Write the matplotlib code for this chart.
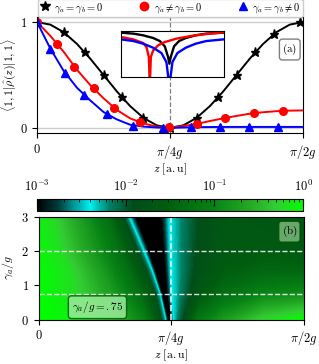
import numpy as np
import matplotlib
matplotlib.use('Agg')
import matplotlib.pyplot as plt
from matplotlib.colors import LinearSegmentedColormap, LogNorm
from matplotlib.cm import ScalarMappable

plt.rcParams['mathtext.fontset'] = 'cm'
plt.rcParams['font.family'] = 'serif'
plt.rcParams['font.serif'] = ['DejaVu Serif']

# z in units of pi/2g
z_line = [0, .05, .1, .15, .2, .25, .3, .35, .4, .45, .5, .55, .6, .65, .7, .75, .8, .85, .9, .95, 1]
black_line = [1, .976, .905, .794, .655, .5, .345, .206, .095, .024, 0, .024, .095, .206, .345, .5, .655, .794, .905, .976, 1]
red_line = [1, .87, .72, .55, .405, .28, .17, .09, .042, .012, .004, .018, .037, .065, .09, .113, .134, .148, .158, .163, .165]
blue_line = [1, .75, .54, .38, .26, .15, .08, .03, .012, .004, 0, .004, .007, .008, .009, .009, .009, .009, .009, .009, .009]

star_z = [0, .1, .18, .25, .32, .4, .5, .6, .68, .75, .82, .89, .99]
star_v = [1, .905, .713, .5, .289, .095, 0, .095, .289, .5, .713, .887, .999]
circ_z = [0, .075, .14, .213, .29, .386, .495, .6, .708, .815, .924]
circ_v = [1, .797, .578, .375, .1875, .053, .006, .037, .094, .14, .162]
tri_z = [0, .05, .107, .175, .263, .361, .474, .579, .687, .796, .905]
tri_v = [1, .75, .516, .3125, .131, .022, 0, .006, .009, .009, .009]

# inset (log10 of the value)
ins_black_z = [.42, .4403, .4567, .4732, .4842, .4924, .4979, .5, .5022, .5077, .516, .527, .5434, .561, .59]
ins_black_log = [-1.146, -1.255, -1.438, -1.73, -2.06, -2.64, -3.81, -4.54, -3.81, -2.64, -2.06, -1.73, -1.438, -1.255, -1.146]
ins_red_z = [.42, .4403, .4567, .4622, .4661, .4677, .4694, .4732, .4814, .4924, .5116, .539, .5664, .59]
ins_red_log = [-1.62, -1.876, -2.28, -2.72, -3.81, -7, -3.81, -3.08, -2.53, -2.17, -1.8, -1.47, -1.256, -1.11]
ins_blue_z = [.42, .4403, .4567, .4732, .4869, .4951, .5, .505, .5132, .527, .5434, .561, .59]
ins_blue_log = [-1.876, -2.06, -2.35, -2.79, -3.37, -4.36, -7, -4.36, -3.37, -2.79, -2.35, -2.06, -1.876]

# heatmap: rows of gamma_a/g, each with node positions along z and log10 values
gam_rows = [0, .75, 1.4, 2, 3]
map_z = [
    [0, .15, .3, .4, .455, .478, .487, .493, .5, .51, .54, .6, .7, .85, 1],
    [0, .15, .28, .38, .435, .457, .465, .475, .488, .505, .535, .61, .7, .85, 1],
    [0, .12, .24, .34, .405, .428, .44, .46, .482, .5, .535, .61, .7, .85, 1],
    [0, .08, .2, .3, .37, .396, .415, .445, .477, .497, .535, .61, .7, .85, 1],
    [0, .06, .17, .26, .315, .34, .365, .42, .468, .495, .535, .62, .72, .85, 1],
]
map_log = [
    [0, -.1, -.6, -1.05, -1.7, -2.4, -3.0, -3.6, -3.0, -2.4, -2.0, -1.2, -.75, -.25, 0],
    [0, -.25, -.75, -1.3, -1.8, -2.4, -3.0, -3.6, -2.9, -2.4, -2.2, -1.65, -1.3, -1.0, -.9],
    [-.02, -.2, -.75, -1.3, -1.85, -2.4, -3.0, -3.8, -2.9, -2.4, -2.22, -1.8, -1.55, -1.4, -1.4],
    [-.05, -.2, -.75, -1.25, -1.85, -2.4, -3.0, -3.8, -2.9, -2.4, -2.22, -1.85, -1.65, -1.6, -1.65],
    [-.1, -.25, -.8, -1.3, -1.85, -2.4, -3.0, -4.0, -2.9, -2.4, -2.22, -1.85, -1.65, -1.7, -1.75],
]

cmap = LinearSegmentedColormap.from_list('bcg', [
    (0.0, (0, 0, 0)), (0.08, (0, .24, .24)), (0.2, (0, .95, .95)), (0.27, (0, .5, .4)),
    (0.36, (0, .3, .1)), (0.48, (0, .36, .06)), (0.65, (.02, .5, .08)),
    (0.8, (.14, .66, .14)), (0.9, (.2, .8, .2)), (1.0, (0, 1, 0))])
cmap.set_under('black')
cmap.set_over((0, 1, 0))

fig = plt.figure(figsize=(3.19, 3.64), dpi=100)

# top panel
ax = fig.add_axes([0.116, 0.635, 0.834, 0.318])
ax.axhline(0, color='0.8', lw=1, zorder=0)
ax.axhline(1, color='0.8', lw=1, zorder=0)
ax.axvline(0.5, color='0.5', lw=0.9, ls='--', zorder=0)
ax.plot(z_line, black_line, color='k', lw=1.4)
ax.plot(z_line, red_line, color='red', lw=1.4)
ax.plot(z_line, blue_line, color='blue', lw=1.4)
ax.plot(star_z, star_v, '*', color='k', ms=6.5, ls='none', label=r'$\gamma_a=\gamma_b=0$')
ax.plot(circ_z, circ_v, 'o', color='red', ms=5.5, ls='none', label=r'$\gamma_a\neq\gamma_b=0$')
ax.plot(tri_z, tri_v, '^', color='blue', ms=5.5, ls='none', label=r'$\gamma_a=\gamma_b\neq0$')
ax.set_xlim(0, 1)
ax.set_ylim(-0.047, 1.047)
ax.set_xticks([0, .5, 1])
ax.set_xticklabels(['$0$', r'$\pi/4g$', r'$\pi/2g$'], fontsize=9)
ax.set_yticks([0, 1])
ax.set_yticklabels(['$0$', '$1$'], fontsize=9)
ax.set_xlabel(r'$z\ [\mathrm{a.u}]$', fontsize=8.5, labelpad=1)
ax.set_ylabel(r'$\langle 1,1|\hat\rho(z)|1,1\rangle$', fontsize=8.5)
ax.yaxis.set_label_coords(-0.07, 0.5)
ax.legend(loc='lower left', bbox_to_anchor=(0, 1.0, 1, 0.1), mode='expand', ncol=3,
          fontsize=7.5, handletextpad=0.4, borderaxespad=0.05, borderpad=0.2,
          handlelength=1.0, columnspacing=0.4, framealpha=1, markerscale=1.1)
ax.text(0.95, 0.72, r'$\mathrm{(a)}$', transform=ax.transAxes, fontsize=8, ha='center', va='center',
        bbox=dict(boxstyle='round,pad=0.25', fc='white', ec='0.5'))

# inset
axi = fig.add_axes([0.379, 0.788, 0.323, 0.126])
axi.plot(ins_black_z, 10.0 ** np.array(ins_black_log), color='k', lw=1.7)
axi.plot(ins_red_z, 10.0 ** np.array(ins_red_log), color='red', lw=1.7)
axi.plot(ins_blue_z, 10.0 ** np.array(ins_blue_log), color='blue', lw=1.7)
axi.set_yscale('log')
axi.set_xlim(.42, .59)
axi.set_ylim(1e-6, 1e-1)
axi.set_xticks([])
axi.set_yticks([])
axi.minorticks_off()

# colorbar
cax = fig.add_axes([0.116, 0.420, 0.834, 0.034])
cb = fig.colorbar(ScalarMappable(norm=LogNorm(1e-3, 1), cmap=cmap), cax=cax, orientation='horizontal')
cax.xaxis.set_ticks_position('top')
cb.set_ticks([1e-3, 1e-2, 1e-1, 1])
cb.set_ticklabels([r'$10^{-3}$', r'$10^{-2}$', r'$10^{-1}$', r'$10^{0}$'])
cax.tick_params(which='both', direction='in', labelsize=9)
cax.tick_params(which='major', length=5)
cax.tick_params(which='minor', length=2.5)

# heatmap
ax2 = fig.add_axes([0.121, 0.122, 0.831, 0.283])
Z = np.array(map_z)
G = np.repeat(np.array(gam_rows)[:, None], Z.shape[1], axis=1)
cs = ax2.contourf(Z, G, np.array(map_log), levels=np.linspace(-3, 0, 151), cmap=cmap, extend='both')
ax2.axhline(2, color='white', ls='--', lw=1, alpha=0.85)
ax2.axhline(0.75, color='white', ls='--', lw=1, alpha=0.85)
ax2.axvline(0.5, color='white', ls='--', lw=1.2, alpha=0.9)
ax2.set_xlim(0, 1)
ax2.set_ylim(0, 3)
ax2.set_xticks([0, .5, 1])
ax2.set_xticklabels(['$0$', r'$\pi/4g$', r'$\pi/2g$'], fontsize=9)
ax2.set_yticks([0, 1, 2, 3])
ax2.set_yticklabels(['$0$', '$1$', '$2$', '$3$'], fontsize=9)
ax2.set_xlabel(r'$z\ [\mathrm{a.u}]$', fontsize=8.5, labelpad=0)
ax2.set_ylabel(r'$\gamma_a/g$', fontsize=8.5)
ax2.yaxis.set_label_coords(-0.085, 0.5)
ax2.text(0.222, 0.12, r'$\gamma_a/g=.75$', transform=ax2.transAxes, fontsize=8, ha='center', va='center',
         bbox=dict(boxstyle='round,pad=0.3', fc=(.6, .92, .6), ec=(0, .35, 0), alpha=0.85))
ax2.text(0.946, 0.853, r'$\mathrm{(b)}$', transform=ax2.transAxes, fontsize=8, ha='center', va='center',
         bbox=dict(boxstyle='round,pad=0.25', fc=(.5, .75, .5), ec=(0, .3, 0), alpha=0.8))

plt.savefig('out.png', dpi=100)
